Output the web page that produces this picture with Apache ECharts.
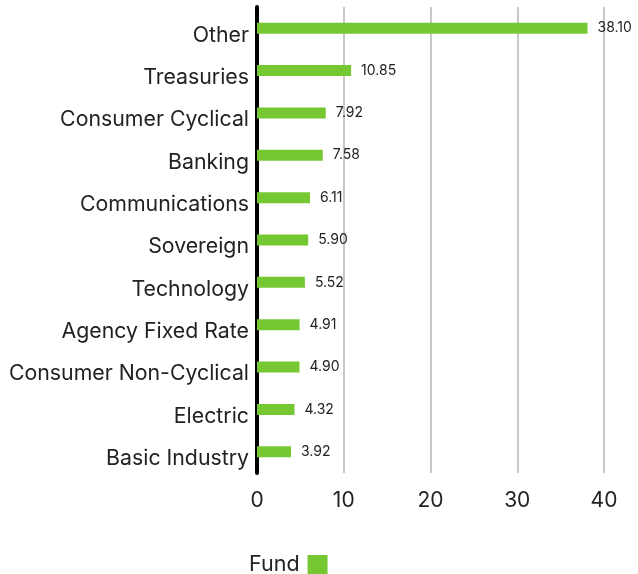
<!DOCTYPE html>
<html><head><meta charset="utf-8">
<script src="https://cdn.jsdelivr.net/npm/echarts@6/dist/echarts.min.js"></script>
<style>html,body{margin:0;padding:0;background:#fff}#c{width:638px;height:574px}</style>
</head><body><div id="c"></div>
<script>
const categories = ["Other","Treasuries","Consumer Cyclical","Banking","Communications","Sovereign","Technology","Agency Fixed Rate","Consumer Non-Cyclical","Electric","Basic Industry"];
const fundValues = [38.10,10.85,7.92,7.58,6.11,5.90,5.52,4.91,4.90,4.32,3.92];
const xTicks = [0,10,20,30,40];
const FONT = "Inter";
const chart = echarts.init(document.getElementById('c'));
chart.setOption({
  animation:false,
  grid:{left:257,right:34,top:7,bottom:101,containLabel:false},
  legend:{data:['Fund'],left:244,top:549,align:'right',itemWidth:20,itemHeight:20,itemGap:10,
    icon:'rect',textStyle:{fontFamily:FONT,fontSize:21.5,color:'#222',padding:[3,3,0,0]}},
  xAxis:{type:'value',min:xTicks[0],max:xTicks[xTicks.length-1],interval:10,
    axisLine:{show:false},axisTick:{show:false},
    axisLabel:{fontFamily:FONT,fontSize:21,color:'#222',margin:17},
    splitLine:{lineStyle:{color:'#c8c8c8',width:2}}},
  yAxis:{type:'category',data:categories,inverse:true,
    axisLine:{lineStyle:{color:'#000',width:4}},axisTick:{show:false},
    axisLabel:{fontFamily:FONT,fontSize:21.3,color:'#222',margin:8,verticalAlign:'top',lineHeight:14}},
  series:[{name:'Fund',type:'bar',data:fundValues,barWidth:11,
    itemStyle:{color:'#76c832'},
    label:{show:true,position:'right',distance:10,fontFamily:FONT,fontSize:14,color:'#222',
      padding:[0,0,3,0],formatter:p=>p.value.toFixed(2)}}]
});
</script></body></html>
